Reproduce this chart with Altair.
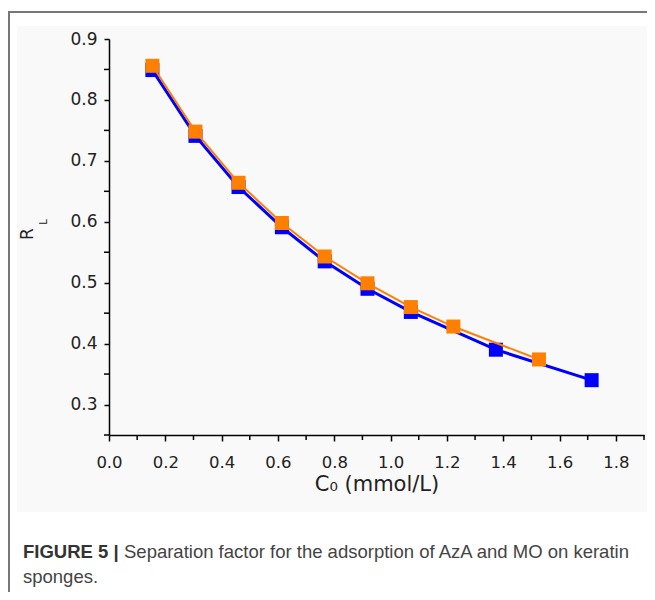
import altair as alt
import pandas as pd

# Series
azA_x = [0.154, 0.307, 0.460, 0.614, 0.766, 0.918, 1.072, 1.374, 1.714]
azA_y = [0.849, 0.741, 0.657, 0.591, 0.535, 0.490, 0.452, 0.390, 0.340]
mo_x = [0.154, 0.307, 0.460, 0.614, 0.766, 0.918, 1.072, 1.223, 1.527]
mo_y = [0.856, 0.748, 0.664, 0.598, 0.543, 0.499, 0.460, 0.428, 0.374]

# Tick positions
x_major = [0.0, 0.2, 0.4, 0.6, 0.8, 1.0, 1.2, 1.4, 1.6, 1.8]
x_minor = [0.1, 0.3, 0.5, 0.7, 0.9, 1.1, 1.3, 1.5, 1.7, 1.9]
y_major = [0.3, 0.4, 0.5, 0.6, 0.7, 0.8, 0.9]
y_minor = [0.25, 0.35, 0.45, 0.55, 0.65, 0.75, 0.85]

x_title = "C\u2080 (mmol/L)"
caption_bold = "FIGURE 5 |"
caption_1 = "Separation factor for the adsorption of AzA and MO on keratin"
caption_2 = "sponges."

FONT = "DejaVu Sans"
CAP_FONT = "Liberation Sans"
W, H = 535, 396

blue = pd.DataFrame({"x": azA_x, "y": azA_y})
orange = pd.DataFrame({"x": mo_x, "y": mo_y})
xmin_df = pd.DataFrame({"x": x_minor})
ymin_df = pd.DataFrame({"y": y_minor})
one = pd.DataFrame({"a": [0]})

xs = alt.Scale(domain=[0, 1.9], nice=False, zero=False)
ys = alt.Scale(domain=[0.25, 0.9], nice=False, zero=False)

x_axis = alt.Axis(values=x_major, format=".1f", orient="bottom", tickSize=6, tickWidth=1.5,
                  zindex=1, labelOverlap=False, labelFlush=False,
                  tickColor="black", domainColor="black", domainWidth=1.5, grid=False,
                  labelFont=FONT, labelFontSize=16.5, labelColor="#222", labelPadding=13,
                  title=x_title, titleFont=FONT, titleFontSize=21, titleFontWeight="normal",
                  titleColor="#222", titlePadding=3)
y_axis = alt.Axis(values=y_major, format=".1f", orient="left", tickSize=5, tickWidth=1.5,
                  zindex=1, labelOverlap=False, labelFlush=False,
                  tickColor="black", domainColor="black", domainWidth=1.5, grid=False,
                  labelFont=FONT, labelFontSize=17, labelColor="#222", labelPadding=7,
                  title=None)

bg = alt.Chart(one).mark_rect(color="#f9f9f9").encode(
    x=alt.value(-92), x2=alt.value(545), y=alt.value(-13), y2=alt.value(473))
top_border = alt.Chart(one).mark_rule(color="#777", strokeWidth=2).encode(
    x=alt.value(-100), x2=alt.value(545), y=alt.value(-27))
left_border = alt.Chart(one).mark_rule(color="#777", strokeWidth=2).encode(
    x=alt.value(-100), y=alt.value(-28), y2=alt.value(560))

blue_line = alt.Chart(blue).mark_line(color="#0000ff", strokeWidth=3).encode(
    x=alt.X("x:Q", scale=xs, axis=x_axis),
    y=alt.Y("y:Q", scale=ys, axis=y_axis))
blue_pts = alt.Chart(blue).mark_square(color="#0000ff", size=196, opacity=1).encode(
    x="x:Q", y="y:Q")
orange_line = alt.Chart(orange).mark_line(color="#ff8000", strokeWidth=2).encode(
    x="x:Q", y="y:Q")
orange_pts = alt.Chart(orange).mark_square(color="#ff8000", size=196, opacity=1).encode(
    x="x:Q", y="y:Q")

x_minor_ticks = alt.Chart(xmin_df).mark_rule(color="black", strokeWidth=1.5).encode(
    x="x:Q", y=alt.value(H), y2=alt.value(H + 5))
y_minor_ticks = alt.Chart(ymin_df).mark_rule(color="black", strokeWidth=1.5).encode(
    y="y:Q", x=alt.value(-5), x2=alt.value(0))

r_text = alt.Chart(one).mark_text(text="R", angle=270, font=FONT, fontSize=17, color="#222",
                                  align="center", baseline="alphabetic").encode(
    x=alt.value(-76), y=alt.value(195))
l_text = alt.Chart(one).mark_text(text="L", angle=270, font=FONT, fontSize=10, color="#222",
                                  align="center", baseline="alphabetic").encode(
    x=alt.value(-62), y=alt.value(183))

cap_b = alt.Chart(one).mark_text(text=caption_bold, font=CAP_FONT, fontSize=18.5, fontWeight="bold",
                                 color="#333", align="left", baseline="alphabetic").encode(
    x=alt.value(-86), y=alt.value(519))
cap_1 = alt.Chart(one).mark_text(text=caption_1, font=CAP_FONT, fontSize=18.5, color="#444",
                                 align="left", baseline="alphabetic").encode(
    x=alt.value(15), y=alt.value(519))
cap_2 = alt.Chart(one).mark_text(text=caption_2, font=CAP_FONT, fontSize=18.5, color="#444",
                                 align="left", baseline="alphabetic").encode(
    x=alt.value(-86), y=alt.value(544))

chart = alt.layer(
    bg, top_border, left_border, blue_line, blue_pts, orange_line, orange_pts,
    x_minor_ticks, y_minor_ticks, r_text, l_text, cap_b, cap_1, cap_2
).properties(
    width=W, height=H,
    autosize=alt.AutoSizeParams(type="none"),
    padding={"left": 101, "top": 31, "right": 3, "bottom": 157},
    background="white",
).configure_view(stroke=None)

chart.save("out.html", embed_options={"renderer": "svg", "actions": False})
